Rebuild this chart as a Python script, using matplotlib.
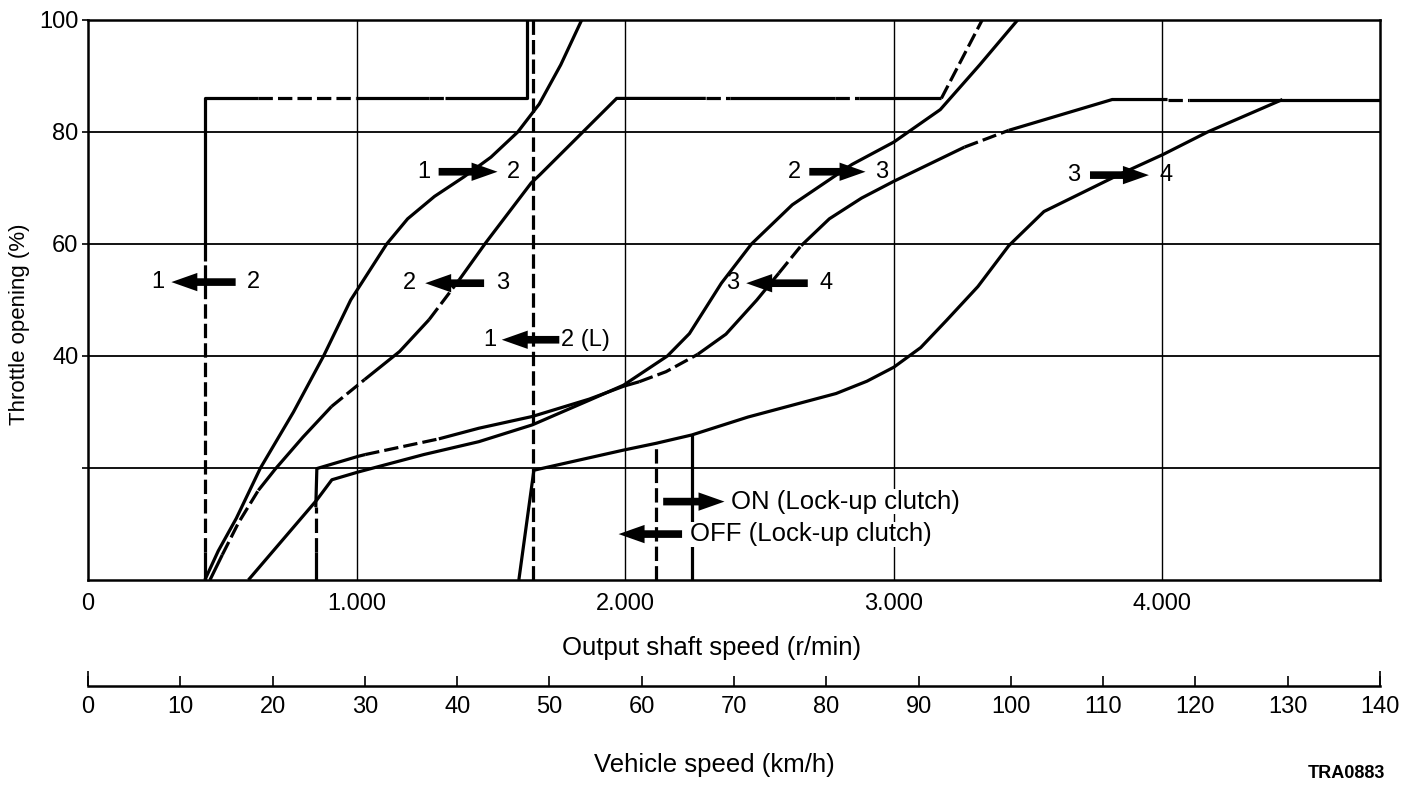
import matplotlib.pyplot as plt
from matplotlib.patches import FancyArrowPatch

plt.rcParams['font.family'] = ['Liberation Sans', 'DejaVu Sans']

# shift lines: output shaft speed (r/min) against throttle opening (%)
up12_rpm = [435, 485, 552, 642, 765, 877, 978, 1112, 1190, 1290, 1400, 1500, 1600, 1680, 1760, 1838]
up12_thr = [0, 5.2, 11, 20, 30, 40, 50, 60, 64.5, 68.5, 72, 75.5, 80, 85, 92, 100]

down12_rpm = [435, 435, 435, 435, 634, 996, 1269, 1330, 1635, 1635]
down12_thr = [0, 5, 57, 86, 86, 86, 86, 86, 86, 100]

down12L_rpm = [1658, 1658]
down12L_thr = [0, 100]

up23_rpm = [597, 852, 908, 1007, 1250, 1455, 1654, 1866, 1994, 2157, 2239, 2358, 2470, 2622, 2844, 3000, 3173, 3320, 3461]
up23_thr = [0, 14.3, 17.9, 19.3, 22.4, 24.7, 27.7, 32.1, 34.8, 40, 44, 53, 60, 67, 74.2, 78.2, 84, 92, 100]

down23_rpm = [454, 500, 560, 634, 697, 800, 907, 1030, 1160, 1270, 1382, 1482, 1650, 1683,
              1968, 2300, 2390, 2780, 2870, 3177, 3329]
down23_thr = [0, 4.5, 10.2, 16, 19.8, 25.5, 31, 35.8, 40.8, 46.5, 53.6, 60.3, 70.9, 72.4,
              86, 86, 86, 86, 86, 86, 100]

up34_rpm = [1604, 1660, 1994, 2114, 2248, 2457, 2785, 2900, 3000, 3100, 3197, 3313, 3428, 3559, 3839, 4003, 4168, 4447]
up34_thr = [0, 19.6, 23.2, 24.4, 25.9, 29.1, 33.3, 35.5, 38, 41.5, 46.4, 52.4, 59.7, 65.8, 72.4, 76, 80, 85.8]

down34_rpm = [848, 848, 848, 852, 1007, 1032, 1306, 1455, 1654, 1866, 1994, 2052, 2152, 2270, 2375, 2490,
              2572, 2655, 2760, 2880, 3000, 3263, 3428, 3813, 4019, 4100, 4813]
down34_thr = [0, 5, 13, 19.9, 22.1, 22.4, 25.2, 27.1, 29.2, 32.3, 34.6, 35.4, 37.2, 40.3, 43.9, 50,
              54.8, 59.7, 64.5, 68.2, 71.2, 77.3, 80.3, 85.8, 85.8, 85.8, 85.8]

# lock-up clutch lines
lockup_on_rpm, lockup_on_thr = 2248, 25.9
lockup_off_rpm, lockup_off_thr = 2114, 24.4

# vehicle speed scale
kmh_ticks = list(range(0, 141, 10))

LW = 2.3
DASH = (4.5, 1.6)
TXT = 17


def shift_line(ax, xs, ys, dashed=()):
    # draw a polyline, segment i dashed when i is in `dashed`
    n = len(xs) - 1
    styles = ['d' if i in dashed else 's' for i in range(n)]
    start = 0
    for i in range(1, n + 1):
        if i == n or styles[i] != styles[start]:
            kw = dict(color='black', lw=LW, solid_joinstyle='round', solid_capstyle='butt')
            if styles[start] == 'd':
                kw['dashes'] = DASH
            ax.plot(xs[start:i + 1], ys[start:i + 1], **kw)
            start = i


def shift_arrow(ax, x0, x1, y):
    ax.add_patch(FancyArrowPatch((x0, y), (x1, y), arrowstyle='simple,head_length=1.7,head_width=1.2,tail_width=0.5',
                                 mutation_scale=11, color='black', lw=0, zorder=5))


def arrow_label(ax, left, right, xl, xr, x0, x1, y):
    ax.text(xl, y, left, ha='center', va='center', fontsize=TXT, zorder=6)
    ax.text(xr, y, right, ha='left', va='center', fontsize=TXT, zorder=6)
    shift_arrow(ax, x0, x1, y)


fig = plt.figure(figsize=(14.03, 7.85), dpi=100)
ax = fig.add_axes([88 / 1403, 1 - 580 / 785, 1292 / 1403, 560 / 785])
ax.set_xlim(0, 4810)
ax.set_ylim(0, 100)

for y in [20, 40, 60, 80]:
    ax.axhline(y, color='black', lw=1.3, zorder=1)
for x in [1000, 2000, 3000, 4000]:
    ax.axvline(x, color='black', lw=1.0, zorder=1)

for s in ax.spines.values():
    s.set_linewidth(1.8)

ax.set_yticks([20, 40, 60, 80, 100])
ax.set_yticklabels(['', '40', '60', '80', '100'])
ax.tick_params(axis='y', length=4, width=1.2, pad=3, labelsize=17)
ax.set_xticks([0, 1000, 2000, 3000, 4000])
ax.set_xticklabels(['0', '1.000', '2.000', '3.000', '4.000'])
ax.tick_params(axis='x', length=0, pad=9, labelsize=17)

shift_line(ax, up12_rpm, up12_thr)
shift_line(ax, down12_rpm, down12_thr, dashed={1, 4, 6})
shift_line(ax, down12L_rpm, down12L_thr, dashed={0})
shift_line(ax, up23_rpm, up23_thr)
shift_line(ax, down23_rpm, down23_thr, dashed={1, 2, 6, 9, 15, 17, 19})
shift_line(ax, up34_rpm, up34_thr)
shift_line(ax, down34_rpm, down34_thr, dashed={1, 5, 11, 12, 16, 21, 24})
shift_line(ax, [lockup_on_rpm, lockup_on_rpm], [0, lockup_on_thr])
shift_line(ax, [lockup_off_rpm, lockup_off_rpm], [0, lockup_off_thr], dashed={0})

# shift direction labels
arrow_label(ax, '1', '2', 1250, 1560, 1295, 1535, 72.9)
arrow_label(ax, '1', '2', 261, 590, 560, 300, 53.2)
arrow_label(ax, '2', '3', 1198, 1520, 1485, 1245, 53.0)
arrow_label(ax, '1', '2 (L)', 1495, 1760, 1765, 1530, 42.9)
arrow_label(ax, '2', '3', 2631, 2930, 2675, 2905, 72.9)
arrow_label(ax, '3', '4', 2399, 2725, 2690, 2440, 53.0)
arrow_label(ax, '3', '4', 3668, 3990, 3720, 3960, 72.3)

shift_arrow(ax, 2131, 2380, 14.0)
shift_arrow(ax, 2222, 1965, 8.2)
ax.text(2395, 14.0, 'ON (Lock-up clutch)', ha='left', va='center', fontsize=18.5, zorder=6,
        bbox=dict(fc='white', ec='none', pad=0.3))
ax.text(2240, 8.2, 'OFF (Lock-up clutch)', ha='left', va='center', fontsize=18.5, zorder=6,
        bbox=dict(fc='white', ec='none', pad=0.3))

# vehicle speed scale below
ax2 = fig.add_axes([88 / 1403, 1 - 686 / 785, 1292 / 1403, 0.0001])
ax2.set_xlim(0, 140)
for k in ['top', 'left', 'right']:
    ax2.spines[k].set_visible(False)
ax2.spines['bottom'].set_linewidth(1.8)
ax2.set_yticks([])
ax2.set_xticks(kmh_ticks)
ax2.tick_params(axis='x', direction='in', length=7, width=1.2, pad=7, labelsize=17)
ax2.xaxis.remove_overlapping_locs = False
ax2.set_xticks([0, 140], minor=True)
ax2.tick_params(axis='x', which='minor', direction='in', length=11, width=1.2)

fig.text(712 / 1403, 1 - 648 / 785, 'Output shaft speed (r/min)', ha='center', va='center', fontsize=18.5)
fig.text(714 / 1403, 1 - 765 / 785, 'Vehicle speed (km/h)', ha='center', va='center', fontsize=18.5)
fig.text(1385 / 1403, 1 - 773 / 785, 'TRA0883', ha='right', va='center', fontsize=13, fontweight='bold')
fig.text(20 / 1403, 1 - 324 / 785, 'Throttle opening (%)', ha='center', va='center', rotation=90, fontsize=16)

fig.savefig('out.png', dpi=100)
